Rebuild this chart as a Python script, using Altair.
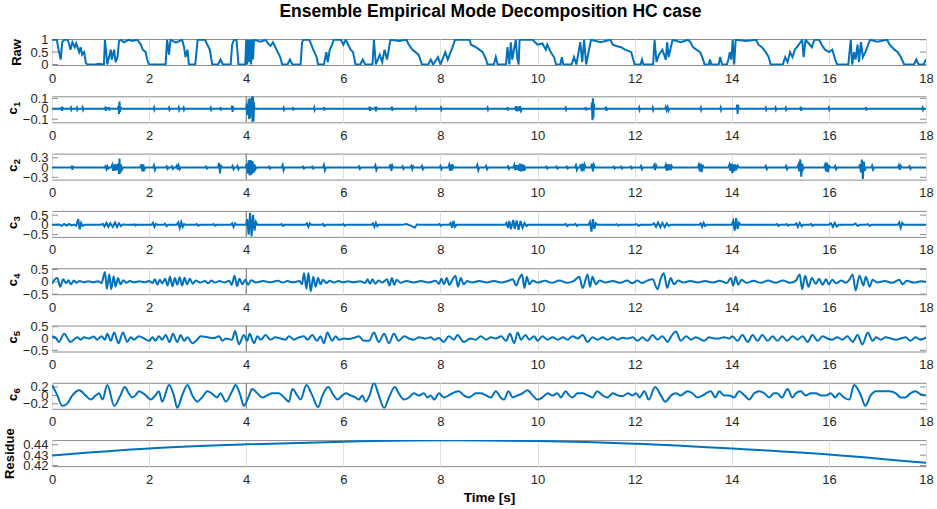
import altair as alt
import pandas as pd

TITLE = "Ensemble Empirical Mode Decomposition HC case"
time_ticks = [0, 2, 4, 6, 8, 10, 12, 14, 16, 18]

raw = [(0.0,1.0),(0.1,1.0),(0.14,0.55),(0.18,0.2),(0.21,0.9),(0.25,1.0),(0.32,1.0),(0.35,0.85),(0.38,0.6),(0.42,0.9),
(0.47,0.7),(0.5,0.85),(0.56,0.5),(0.59,0.7),(0.62,0.4),(0.66,0.5),(0.7,0.05),(0.73,0.0),(0.9,0.0),(0.95,0.03),
(1.07,0.0),(1.09,1.0),(1.14,0.0),(1.21,0.6),(1.23,0.2),(1.28,0.6),(1.31,0.1),(1.35,0.3),(1.38,0.95),(1.42,1.0),
(1.48,0.9),(1.58,1.0),(1.65,0.95),(1.76,1.0),(1.83,0.8),(1.87,0.6),(1.93,0.5),(1.96,0.2),(2.0,0.0),(2.34,0.0),
(2.37,1.0),(2.41,0.4),(2.44,1.0),(2.55,0.88),(2.68,1.0),(2.72,0.7),(2.75,0.3),(2.79,0.6),(2.82,0.0),(2.95,0.0),
(3.0,1.0),(3.15,1.0),(3.2,0.8),(3.25,0.6),(3.3,0.0),(3.42,0.0),(3.47,0.2),(3.52,0.0),(3.68,0.0),(3.71,0.8),
(3.75,1.0),(3.8,1.0),(3.84,0.0),(3.98,0.0),(4.0,1.0),(4.02,0.0),(4.04,1.0),(4.06,0.1),(4.08,1.0),(4.1,0.0),
(4.12,1.0),(4.14,0.2),(4.16,1.0),(4.3,0.92),(4.4,1.0),(4.45,0.85),(4.5,0.75),(4.55,0.9),(4.6,0.7),(4.65,0.5),
(4.7,0.3),(4.74,0.0),(4.85,0.0),(4.9,0.2),(4.95,0.0),(5.12,0.0),(5.15,0.9),(5.18,1.0),(5.3,1.0),(5.34,0.8),
(5.38,0.6),(5.45,0.3),(5.48,0.0),(5.6,0.0),(5.65,0.5),(5.68,0.1),(5.72,0.6),(5.77,0.8),(5.8,1.0),(5.95,1.0),
(6.0,0.8),(6.05,1.0),(6.1,0.8),(6.15,0.6),(6.2,0.5),(6.25,0.0),(6.35,0.0),(6.4,0.2),(6.45,0.0),(6.6,0.0),
(6.63,1.0),(6.67,0.0),(6.75,0.4),(6.8,0.1),(6.85,0.6),(6.9,0.2),(6.97,1.0),(7.15,0.95),(7.3,1.0),(7.35,0.8),
(7.42,0.6),(7.55,0.4),(7.62,0.0),(7.75,0.0),(7.8,0.2),(7.85,0.0),(7.95,0.3),(8.0,0.0),(8.1,0.5),(8.15,0.2),
(8.25,0.7),(8.3,1.0),(8.6,1.0),(8.63,0.8),(8.73,0.7),(8.8,0.6),(8.87,0.5),(8.94,0.2),(8.97,0.0),(9.1,0.0),
(9.14,0.3),(9.18,0.0),(9.35,0.0),(9.38,0.7),(9.42,0.0),(9.45,0.9),(9.48,0.2),(9.55,1.0),(9.58,0.3),(9.61,0.0),
(9.63,1.0),(9.9,1.0),(9.95,0.9),(10.0,0.8),(10.1,0.85),(10.17,0.6),(10.2,0.8),(10.27,0.5),(10.34,0.3),(10.38,0.0),
(10.47,0.0),(10.5,0.3),(10.53,0.0),(10.7,0.0),(10.75,0.3),(10.8,0.0),(10.88,0.9),(10.92,0.1),(10.96,1.0),(11.0,0.0),
(11.1,1.0),(11.3,0.9),(11.5,1.0),(11.55,0.8),(11.62,0.75),(11.72,0.7),(11.8,0.6),(11.87,0.55),(11.93,0.5),(11.97,0.2),
(12.0,0.0),(12.12,0.0),(12.15,0.2),(12.18,0.0),(12.38,0.0),(12.41,1.0),(12.45,0.1),(12.5,0.4),(12.57,0.6),(12.64,0.2),
(12.67,0.9),(12.7,0.3),(12.78,1.0),(12.95,0.9),(13.1,1.0),(13.15,0.9),(13.2,0.7),(13.27,0.6),(13.35,0.5),(13.41,0.2),
(13.44,0.0),(13.53,0.0),(13.55,0.2),(13.58,0.0),(13.73,0.0),(13.76,0.3),(13.8,0.0),(13.9,0.0),(13.93,0.2),(13.96,0.5),
(13.99,0.2),(14.02,1.0),(14.05,0.0),(14.08,1.0),(14.3,0.95),(14.5,1.0),(14.55,0.8),(14.62,0.7),(14.7,0.5),(14.76,0.3),
(14.8,0.0),(15.05,0.0),(15.1,0.3),(15.15,0.1),(15.2,0.5),(15.25,0.3),(15.3,0.6),(15.38,0.8),(15.45,1.0),(15.48,0.3),
(15.52,1.0),(15.65,0.7),(15.7,1.0),(15.8,1.0),(15.85,0.8),(15.92,0.6),(16.0,0.5),(16.07,0.6),(16.13,0.2),(16.17,0.0),
(16.4,0.0),(16.45,1.0),(16.48,0.0),(16.52,0.5),(16.55,0.2),(16.59,0.8),(16.62,0.1),(16.66,0.9),(16.7,0.3),(16.75,0.5),
(16.85,1.0),(17.0,0.92),(17.2,1.0),(17.25,0.8),(17.35,0.6),(17.42,0.5),(17.48,0.3),(17.55,0.0),(17.75,0.0),(17.8,0.2),
(17.85,0.0),(17.95,0.0),(18.0,0.2)]

c1 = [(0,0),(0.19,0),(0.2,0.02),(0.21,-0.02),(0.22,0.015),(0.23,0),(0.38,0),(0.39,0.01),(0.4,-0.01),(0.41,0),
(0.5,0),(0.51,0.01),(0.52,-0.01),(0.53,0),(0.62,0),(0.63,0.012),(0.64,-0.01),(0.65,0),
(1.09,0),(1.1,0.02),(1.11,-0.02),(1.12,0.015),(1.13,0),(1.16,0),(1.17,0.015),(1.18,-0.015),(1.19,0),
(1.36,0),(1.37,0.03),(1.38,-0.05),(1.39,0.07),(1.4,-0.03),(1.41,0.02),(1.42,0),
(2.09,0),(2.1,0.012),(2.11,-0.01),(2.12,0),(2.4,0),(2.41,0.01),(2.42,-0.01),(2.43,0),
(2.6,0),(2.61,0.012),(2.62,-0.012),(2.63,0),(2.7,0),(2.71,0.01),(2.72,-0.01),(2.73,0),
(3.26,0),(3.27,0.01),(3.28,-0.01),(3.29,0),(3.46,0),(3.47,0.015),(3.48,-0.015),(3.49,0),
(3.7,0),(3.71,0.03),(3.72,-0.03),(3.73,0.02),(3.74,0),
(4.0,0),(4.01,0.05),(4.02,-0.06),(4.03,0.04),(4.04,0),(4.05,0.09),(4.06,-0.1),(4.07,0.1),(4.08,-0.09),(4.09,0.05),
(4.1,-0.03),(4.12,0.12),(4.13,-0.13),(4.14,0.12),(4.15,-0.12),(4.16,0.06),(4.17,0),
(4.76,0),(4.77,0.01),(4.78,-0.01),(4.79,0),(4.95,0),(4.96,0.015),(4.97,-0.015),(4.98,0),
(5.39,0),(5.4,0.012),(5.41,-0.012),(5.42,0),(5.59,0),(5.6,0.015),(5.61,-0.015),(5.62,0),
(6.53,0),(6.54,0.02),(6.55,-0.02),(6.56,0.015),(6.57,0),(6.65,0),(6.66,0.02),(6.67,-0.025),(6.68,0.02),(6.69,0),
(6.99,0),(7.0,0.02),(7.01,-0.02),(7.02,0),(7.48,0),(7.49,0.01),(7.5,-0.01),(7.51,0),
(8.0,0),(8.01,0.01),(8.02,-0.01),(8.03,0),(8.96,0),(8.97,0.01),(8.98,-0.01),(8.99,0),
(9.37,0),(9.38,0.015),(9.39,-0.015),(9.4,0),(9.54,0),(9.55,0.025),(9.56,-0.02),(9.57,0.02),(9.58,-0.025),(9.6,0.02),
(9.62,-0.02),(9.64,0.025),(9.66,-0.02),(9.68,0),(10.57,0),(10.58,0.01),(10.59,-0.01),(10.6,0),
(10.98,0),(10.99,0.015),(11.0,-0.015),(11.01,0),(11.11,0),(11.12,0.06),(11.13,-0.11),(11.14,0.1),(11.15,-0.09),
(11.16,0.05),(11.17,0),(11.4,0),(11.41,0.02),(11.42,-0.02),(11.43,0),(12.08,0),(12.09,0.012),(12.1,-0.012),(12.11,0),
(12.36,0),(12.37,0.012),(12.38,-0.012),(12.39,0),(12.63,0),(12.64,0.015),(12.66,-0.015),(12.68,0.015),(12.7,-0.015),(12.71,0),
(13.35,0),(13.36,0.012),(13.37,-0.012),(13.38,0),(13.76,0),(13.77,0.012),(13.78,-0.012),(13.79,0),
(14.1,0),(14.11,0.04),(14.12,-0.05),(14.13,0.04),(14.14,0),(14.69,0),(14.7,0.01),(14.71,-0.01),(14.72,0),
(14.89,0),(14.9,0.01),(14.91,-0.01),(14.92,0),(15.1,0),(15.11,0.01),(15.12,-0.01),(15.13,0),
(15.41,0),(15.42,0.02),(15.43,-0.02),(15.44,0),(15.99,0),(16.0,0.01),(16.01,-0.01),(16.02,0),
(16.75,0),(16.76,0.015),(16.77,-0.015),(16.78,0),(17.92,0),(17.93,0.01),(17.94,-0.01),(17.95,0),(18.0,0)]

c2 = [(0,0),(0.4,0),(0.41,0.06),(0.42,-0.07),(0.43,0.05),(0.44,0),
(1.08,0),(1.1,0.04),(1.12,-0.05),(1.14,0.04),(1.16,-0.03),(1.18,0),
(1.22,0),(1.24,0.08),(1.26,-0.1),(1.28,0.1),(1.3,-0.09),(1.32,0.1),(1.34,-0.08),(1.36,0.12),(1.38,-0.2),(1.39,0.28),
(1.4,-0.18),(1.42,0.1),(1.44,-0.06),(1.46,0),
(1.82,0),(1.84,0.1),(1.86,-0.12),(1.88,0.1),(1.9,-0.06),(1.92,0),
(2.08,0),(2.1,0.07),(2.12,-0.07),(2.14,0),(2.34,0),(2.36,0.04),(2.38,-0.04),(2.4,0),
(2.45,0),(2.47,0.04),(2.49,-0.04),(2.51,0),(2.55,0),(2.57,0.06),(2.59,-0.06),(2.61,0.06),(2.63,-0.05),(2.65,0),
(3.15,0),(3.17,0.03),(3.19,-0.03),(3.21,0),(3.42,0),(3.44,0.14),(3.46,-0.18),(3.48,0.08),(3.5,0),
(3.7,0),(3.72,0.05),(3.74,-0.05),(3.76,0),(3.8,0),(3.82,0.05),(3.84,-0.05),(3.86,0),
(3.99,0),(4.01,0.12),(4.03,-0.18),(4.05,0.22),(4.07,-0.24),(4.09,0.23),(4.11,-0.22),(4.13,0.2),(4.15,-0.16),
(4.17,0.1),(4.19,-0.05),(4.21,0),
(4.45,0),(4.47,0.03),(4.49,-0.03),(4.51,0),(4.73,0),(4.75,0.08),(4.77,-0.08),(4.79,0),
(5.15,0),(5.17,0.03),(5.19,-0.03),(5.21,0),(5.34,0),(5.36,0.03),(5.38,-0.03),(5.4,0),
(5.58,0),(5.6,0.08),(5.62,-0.08),(5.64,0),(6.3,0),(6.32,0.04),(6.34,-0.04),(6.36,0),
(6.64,0),(6.66,0.07),(6.68,-0.07),(6.7,0),(6.95,0),(6.97,0.1),(6.99,-0.1),(7.01,0.06),(7.03,0),
(7.2,0),(7.22,0.04),(7.24,-0.04),(7.26,0),(7.38,0),(7.4,0.05),(7.42,-0.05),(7.44,0.04),(7.46,0),
(7.6,0),(7.62,0.05),(7.64,-0.05),(7.66,0),(7.98,0),(8.0,0.05),(8.02,-0.05),(8.04,0),
(8.16,0),(8.18,0.08),(8.2,-0.1),(8.22,0.1),(8.24,-0.08),(8.26,0.05),(8.28,0),
(8.74,0),(8.76,0.08),(8.78,-0.08),(8.8,0),(8.92,0),(8.94,0.05),(8.96,-0.05),(8.98,0),
(9.37,0),(9.39,0.04),(9.41,-0.04),(9.43,0),
(9.5,0),(9.52,0.08),(9.54,-0.08),(9.56,0.07),(9.58,-0.06),(9.6,0.08),(9.62,-0.1),(9.64,0.12),(9.66,-0.12),
(9.68,0.1),(9.7,-0.1),(9.72,0.08),(9.74,-0.05),(9.76,0),
(10.16,0),(10.18,0.03),(10.2,-0.03),(10.22,0),(10.37,0),(10.39,0.03),(10.41,-0.03),(10.43,0),
(10.58,0),(10.6,0.03),(10.62,-0.03),(10.64,0),(10.77,0),(10.79,0.07),(10.81,-0.07),(10.83,0),
(10.87,0),(10.89,0.1),(10.91,-0.12),(10.93,0.12),(10.95,-0.1),(10.97,0.08),(10.99,0),
(11.1,0),(11.12,0.12),(11.14,-0.12),(11.16,0.08),(11.18,0),
(11.55,0),(11.57,0.03),(11.59,-0.03),(11.61,0),(11.7,0),(11.72,0.03),(11.74,-0.03),(11.76,0),
(11.9,0),(11.92,0.03),(11.94,-0.03),(11.96,0),(12.11,0),(12.13,0.05),(12.15,-0.05),(12.17,0),
(12.38,0),(12.4,0.07),(12.42,-0.08),(12.44,0.07),(12.46,0),
(12.62,0),(12.64,0.08),(12.66,-0.1),(12.68,0.1),(12.7,-0.08),(12.72,0.1),(12.74,-0.08),(12.76,0.05),(12.78,0),
(13.3,0),(13.32,0.08),(13.34,-0.12),(13.36,0.12),(13.38,-0.14),(13.4,0.08),(13.42,0),
(13.93,0),(13.95,0.08),(13.97,-0.1),(13.99,0.12),(14.01,-0.17),(14.03,0.1),(14.05,-0.12),(14.07,0.1),
(14.09,-0.08),(14.12,0.06),(14.15,0),
(14.68,0),(14.7,0.05),(14.72,-0.05),(14.74,0),(15.1,0),(15.12,0.05),(15.14,-0.05),(15.16,0),
(15.35,0),(15.37,0.08),(15.39,-0.12),(15.41,0.25),(15.43,-0.28),(15.45,0.12),(15.47,-0.05),(15.49,0),
(15.9,0),(15.92,0.08),(15.94,-0.12),(15.96,0.15),(15.98,-0.14),(16.0,0.08),(16.02,0),
(16.11,0),(16.13,0.05),(16.15,-0.05),(16.17,0),
(16.62,0),(16.64,0.1),(16.66,-0.15),(16.68,0.25),(16.7,-0.35),(16.72,0.18),(16.74,-0.1),(16.76,0),
(16.87,0),(16.89,0.06),(16.91,-0.06),(16.93,0),(17.42,0),(17.44,0.07),(17.46,-0.07),(17.48,0.05),(17.5,0),
(17.64,0),(17.66,0.04),(17.68,-0.04),(17.7,0),(18.0,0)]

c3 = [(0,0),(0.15,0.02),(0.2,-0.05),(0.25,0.05),(0.3,-0.04),(0.35,0.05),(0.4,-0.03),(0.45,0.02),(0.5,-0.05),
(0.54,0.3),(0.57,-0.23),(0.6,0.1),(0.63,-0.05),(0.68,0),
(1.0,0),(1.05,0.05),(1.08,-0.08),(1.12,0.1),(1.16,-0.1),(1.2,0.08),(1.25,-0.1),(1.3,0.12),(1.34,-0.1),(1.38,0.08),
(1.42,-0.06),(1.47,0.03),(1.52,0),(1.68,0),(1.7,0.03),(1.72,-0.03),(1.74,0),
(2.05,0),(2.08,0.1),(2.11,-0.1),(2.14,0.05),(2.17,0),(2.3,0),(2.33,0.06),(2.36,-0.07),(2.39,0),
(2.57,0),(2.6,0.12),(2.63,-0.15),(2.66,0.14),(2.69,-0.1),(2.72,0.04),(2.75,0),
(2.95,0),(2.98,0.04),(3.01,-0.04),(3.04,0),(3.3,0),(3.33,0.04),(3.36,-0.04),(3.39,0),
(3.68,0),(3.71,0.08),(3.74,-0.1),(3.77,0.08),(3.8,0),
(4.0,0),(4.02,0.3),(4.05,-0.5),(4.08,0.62),(4.11,-0.6),(4.14,0.5),(4.17,-0.3),(4.2,0.15),(4.23,0),
(4.7,0),(4.73,0.04),(4.76,-0.05),(4.79,0),(5.22,0),(5.25,0.08),(5.28,-0.1),(5.31,0.08),(5.34,0),
(5.55,0),(5.58,0.05),(5.61,-0.06),(5.64,0),(5.98,0),(6.0,0.04),(6.03,-0.04),(6.06,0),
(6.58,0),(6.61,0.08),(6.64,-0.1),(6.67,0.1),(6.7,-0.07),(6.73,0),
(7.2,0),(7.3,0.04),(7.4,-0.05),(7.47,-0.15),(7.52,0.03),(7.57,0),
(7.95,0),(7.98,0.04),(8.01,-0.04),(8.04,0),(8.18,0),(8.21,0.1),(8.24,-0.15),(8.27,0.2),(8.3,-0.1),(8.33,0),
(9.33,0),(9.36,0.1),(9.39,-0.15),(9.42,0.2),(9.45,-0.22),(9.5,0.25),(9.53,-0.2),(9.57,0.22),(9.61,-0.25),
(9.65,0.2),(9.69,-0.15),(9.73,0.1),(9.77,-0.06),(9.8,0),
(10.55,0),(10.58,0.05),(10.61,-0.06),(10.64,0),(10.75,0),(10.78,0.05),(10.81,-0.05),(10.84,0),
(11.05,0),(11.08,0.15),(11.11,-0.35),(11.14,0.3),(11.17,-0.2),(11.2,0.08),(11.23,0),
(11.6,0),(11.63,0.03),(11.66,-0.04),(11.69,0),(12.0,0),(12.04,0.04),(12.08,-0.05),(12.12,0),
(12.35,0),(12.4,0.08),(12.44,-0.1),(12.48,0.12),(12.53,-0.12),(12.57,0.1),(12.62,-0.12),(12.66,0.08),(12.7,-0.05),(12.74,0),
(13.33,0),(13.36,0.08),(13.39,-0.1),(13.42,0.1),(13.45,-0.06),(13.48,0),
(14.0,0),(14.03,0.2),(14.06,-0.3),(14.09,0.35),(14.12,-0.22),(14.15,0.1),(14.18,0),
(14.9,0),(14.93,0.04),(14.96,-0.05),(14.99,0),(15.1,0),(15.13,0.04),(15.16,-0.04),(15.19,0),
(15.3,0),(15.33,0.08),(15.36,-0.1),(15.4,0.1),(15.44,-0.08),(15.47,0),(15.6,0),(15.63,0.05),(15.66,-0.05),(15.69,0),
(16.0,0),(16.04,0.08),(16.08,-0.1),(16.12,0.1),(16.16,-0.08),(16.2,0),(16.5,0),(16.55,0.07),(16.59,-0.06),(16.63,0),
(16.75,0),(16.8,0.04),(16.84,-0.05),(16.88,0),(17.42,0),(17.45,0.12),(17.48,-0.15),(17.51,0.1),(17.54,0),(18.0,0)]

c4 = [(0,-0.08),(0.05,0.08),(0.11,0.15),(0.17,-0.2),(0.23,0.1),(0.29,-0.05),(0.34,0.06),(0.39,-0.1),(0.45,0.05),
(0.5,-0.04),(0.57,0.03),(0.65,-0.02),(0.75,0.02),(0.85,-0.02),(0.95,0.02),(1.02,-0.05),(1.09,0.4),(1.13,-0.28),
(1.18,0.3),(1.22,-0.3),(1.27,0.22),(1.31,-0.2),(1.36,0.15),(1.41,-0.1),(1.47,0.06),(1.53,-0.04),(1.6,0.03),
(1.7,-0.02),(1.8,0.02),(1.9,-0.02),(2.0,0.03),(2.07,-0.05),(2.12,0.1),(2.17,-0.12),(2.22,0.08),(2.27,-0.06),
(2.33,0.12),(2.38,-0.15),(2.43,0.2),(2.48,-0.18),(2.53,0.15),(2.58,-0.12),(2.63,0.18),(2.68,-0.15),(2.73,0.16),
(2.78,-0.1),(2.84,0.12),(2.9,-0.08),(2.96,0.05),(3.05,-0.03),(3.15,0.03),(3.22,-0.06),(3.28,0.05),(3.35,-0.03),
(3.45,0.03),(3.55,-0.03),(3.65,0.04),(3.7,-0.12),(3.76,0.25),(3.81,-0.18),(3.86,0.12),(3.92,-0.1),(3.98,0.08),
(4.04,-0.12),(4.1,0.06),(4.2,-0.03),(4.35,0.03),(4.5,-0.02),(4.65,0.04),(4.75,-0.03),(4.85,0.03),(4.95,-0.02),
(5.1,0.03),(5.15,-0.1),(5.19,0.35),(5.24,-0.28),(5.28,0.36),(5.33,-0.38),(5.38,0.2),(5.43,-0.2),(5.48,0.15),
(5.53,-0.1),(5.58,0.08),(5.65,-0.05),(5.72,0.04),(5.8,-0.03),(5.9,0.03),(6.0,-0.02),(6.1,0.02),(6.2,-0.02),
(6.35,0.02),(6.45,-0.05),(6.5,0.1),(6.55,-0.08),(6.6,0.1),(6.66,-0.08),(6.72,0.05),(6.8,-0.03),(6.9,0.1),
(6.95,-0.15),(7.0,0.15),(7.05,-0.12),(7.1,0.08),(7.18,-0.04),(7.3,0.03),(7.45,-0.03),(7.6,0.03),(7.75,-0.03),
(7.9,0.04),(7.97,-0.08),(8.02,0.12),(8.07,-0.1),(8.13,0.15),(8.18,-0.12),(8.25,0.1),(8.31,0.25),(8.36,-0.2),
(8.42,0.15),(8.48,-0.1),(8.55,0.03),(8.65,-0.03),(8.8,0.03),(8.95,-0.03),(9.1,0.03),(9.25,-0.03),(9.4,0.04),
(9.49,0.1),(9.56,-0.15),(9.62,0.12),(9.68,0.3),(9.73,-0.25),(9.78,0.2),(9.83,-0.1),(9.9,0.05),(10.0,-0.03),
(10.15,0.04),(10.3,-0.04),(10.45,0.05),(10.6,-0.04),(10.75,0.04),(10.86,0.2),(10.93,-0.25),(11.03,0.3),
(11.08,-0.2),(11.13,0.2),(11.2,-0.1),(11.28,0.05),(11.4,-0.03),(11.55,0.03),(11.7,-0.04),(11.85,0.05),
(11.95,-0.06),(12.05,0.05),(12.15,-0.05),(12.25,0.04),(12.37,0.1),(12.47,-0.3),(12.54,0.15),(12.6,0.35),
(12.67,-0.25),(12.74,0.15),(12.81,-0.1),(12.9,0.05),(13.0,-0.03),(13.15,0.03),(13.3,-0.03),(13.45,0.03),
(13.6,-0.03),(13.75,0.04),(13.9,-0.05),(13.98,0.15),(14.03,-0.15),(14.08,0.2),(14.13,-0.12),(14.2,0.08),
(14.3,-0.04),(14.45,0.04),(14.6,-0.04),(14.75,0.05),(14.9,-0.04),(15.05,0.05),(15.2,-0.04),(15.32,0.05),
(15.4,0.3),(15.45,-0.3),(15.51,0.25),(15.58,-0.2),(15.65,0.15),(15.73,-0.08),(15.8,0.12),(15.87,-0.12),
(15.94,0.1),(16.0,-0.1),(16.07,0.08),(16.15,-0.06),(16.25,0.05),(16.35,-0.04),(16.42,0.08),(16.49,0.3),
(16.55,-0.35),(16.63,0.25),(16.71,-0.15),(16.76,0.2),(16.84,-0.2),(16.9,0.08),(17.0,-0.03),(17.15,0.03),
(17.3,-0.04),(17.45,0.08),(17.52,-0.1),(17.6,0.04),(17.75,-0.03),(17.9,0.02),(18.0,0.0)]

c5 = [(0,0.08),(0.07,0.05),(0.14,-0.15),(0.25,0.2),(0.38,-0.15),(0.52,0.05),(0.59,-0.05),(0.66,0.05),(0.76,0.0),
(0.86,0.08),(0.93,-0.05),(1.02,0.1),(1.09,-0.05),(1.14,0.2),(1.21,-0.1),(1.28,0.25),(1.37,-0.2),(1.46,0.25),
(1.55,-0.15),(1.62,0.05),(1.69,-0.05),(1.79,0.1),(1.9,0.0),(2.0,-0.1),(2.07,0.05),(2.13,-0.1),(2.2,0.1),
(2.27,-0.05),(2.34,0.15),(2.42,-0.15),(2.49,0.2),(2.58,-0.15),(2.65,0.15),(2.72,-0.1),(2.79,0.05),(2.89,-0.2),
(2.99,-0.05),(3.06,0.1),(3.2,0.05),(3.34,0.02),(3.44,0.1),(3.51,-0.1),(3.58,0.0),(3.71,-0.05),(3.77,0.32),
(3.85,-0.25),(3.95,0.15),(4.02,-0.1),(4.07,0.2),(4.16,-0.2),(4.23,0.1),(4.3,-0.05),(4.4,0.15),(4.5,-0.05),
(4.6,0.05),(4.71,0.0),(4.81,-0.05),(4.88,0.1),(4.98,-0.05),(5.09,0.05),(5.19,0.1),(5.26,-0.05),(5.36,0.15),
(5.46,-0.1),(5.53,0.1),(5.6,-0.2),(5.67,0.25),(5.77,-0.1),(5.84,0.1),(5.91,-0.05),(6.01,0.0),(6.11,-0.02),
(6.22,0.03),(6.32,0.1),(6.42,-0.1),(6.53,-0.1),(6.63,0.25),(6.73,-0.15),(6.84,0.2),(6.94,-0.2),(7.04,0.2),
(7.14,-0.1),(7.25,0.1),(7.35,0.0),(7.45,-0.05),(7.56,0.05),(7.7,0.0),(7.8,0.05),(7.87,-0.05),(7.97,0.02),
(8.07,-0.15),(8.17,0.1),(8.28,-0.05),(8.35,0.15),(8.48,-0.15),(8.62,0.0),(8.73,-0.05),(8.83,0.1),(8.94,-0.05),
(9.04,0.05),(9.14,0.0),(9.25,0.1),(9.35,-0.1),(9.43,0.2),(9.52,-0.2),(9.59,0.25),(9.66,-0.05),(9.75,0.15),
(9.83,-0.05),(9.93,0.1),(10.0,-0.1),(10.1,0.1),(10.2,-0.05),(10.31,0.05),(10.42,-0.05),(10.52,0.05),
(10.62,-0.05),(10.72,0.1),(10.83,0.0),(10.93,0.15),(11.03,-0.15),(11.13,0.05),(11.24,-0.05),(11.34,0.05),
(11.44,-0.05),(11.55,0.05),(11.65,-0.05),(11.75,0.03),(11.86,0.0),(11.96,0.05),(12.06,-0.1),(12.16,0.05),
(12.26,-0.1),(12.37,0.15),(12.47,-0.05),(12.57,0.1),(12.68,-0.15),(12.74,0.05),(12.85,0.3),(12.95,-0.1),
(13.06,0.1),(13.16,-0.05),(13.26,0.05),(13.33,0.0),(13.43,-0.1),(13.53,0.05),(13.64,0.0),(13.74,0.0),
(13.84,0.05),(13.95,0.0),(14.01,0.1),(14.12,-0.1),(14.22,0.15),(14.33,-0.15),(14.43,0.15),(14.53,-0.1),
(14.63,0.15),(14.74,-0.1),(14.84,0.1),(14.94,-0.1),(15.04,0.1),(15.14,-0.1),(15.25,0.1),(15.35,-0.05),
(15.46,0.1),(15.56,-0.15),(15.66,0.15),(15.77,-0.1),(15.87,0.1),(15.97,0.0),(16.07,-0.05),(16.17,0.05),
(16.28,-0.05),(16.38,0.1),(16.49,-0.15),(16.59,0.15),(16.69,-0.25),(16.8,0.25),(16.9,-0.1),(16.97,0.05),
(17.07,-0.05),(17.17,0.05),(17.28,0.0),(17.38,-0.05),(17.48,0.0),(17.58,0.05),(17.68,-0.1),(17.78,0.05),
(17.89,-0.05),(18.0,0.05)]

c6 = [(0,0.25),(0.11,0.0),(0.21,-0.25),(0.31,-0.2),(0.42,0.0),(0.56,0.12),(0.69,0.0),(0.8,-0.1),(0.9,0.0),
(0.97,0.05),(1.04,-0.1),(1.14,0.25),(1.28,-0.25),(1.41,0.0),(1.5,0.2),(1.58,0.05),(1.65,-0.05),(1.72,0.0),
(1.79,0.1),(1.93,0.0),(2.03,-0.1),(2.13,0.0),(2.2,0.1),(2.27,-0.15),(2.41,0.25),(2.51,0.0),(2.58,-0.3),
(2.68,0.0),(2.79,0.25),(2.89,0.0),(2.99,-0.15),(3.09,-0.05),(3.2,0.1),(3.34,0.0),(3.4,-0.05),(3.47,0.05),
(3.58,-0.15),(3.71,0.1),(3.78,0.25),(3.88,0.0),(3.95,-0.25),(4.06,0.0),(4.12,0.15),(4.23,0.05),(4.33,-0.05),
(4.43,0.0),(4.54,0.05),(4.67,0.05),(4.78,-0.05),(4.88,-0.15),(4.95,0.15),(5.05,0.0),(5.12,-0.1),(5.24,0.25),
(5.36,0.0),(5.48,-0.28),(5.57,0.0),(5.69,0.2),(5.8,0.0),(5.88,-0.1),(5.98,0.0),(6.05,0.05),(6.15,0.0),
(6.25,-0.05),(6.32,-0.1),(6.39,0.0),(6.46,-0.15),(6.54,0.0),(6.63,0.3),(6.73,0.0),(6.84,-0.3),(6.94,-0.05),
(7.06,0.2),(7.14,0.05),(7.25,-0.1),(7.35,-0.05),(7.45,0.05),(7.56,0.0),(7.66,0.05),(7.73,-0.05),(7.8,0.0),
(7.87,-0.1),(7.97,0.05),(8.07,-0.05),(8.17,0.0),(8.24,0.05),(8.38,0.1),(8.48,0.0),(8.59,-0.05),(8.73,0.05),
(8.83,0.05),(8.94,0.0),(9.04,-0.05),(9.14,0.1),(9.24,-0.05),(9.31,-0.1),(9.4,0.1),(9.49,-0.05),(9.59,0.0),
(9.69,0.05),(9.79,0.12),(9.9,0.0),(10.0,-0.1),(10.1,-0.05),(10.21,0.05),(10.31,0.0),(10.41,0.05),(10.48,-0.05),
(10.58,0.1),(10.65,0.0),(10.72,-0.05),(10.82,0.05),(10.93,0.05),(11.03,0.0),(11.13,-0.05),(11.23,0.1),
(11.34,0.0),(11.44,-0.05),(11.55,0.05),(11.65,0.0),(11.75,-0.02),(11.86,0.05),(11.96,0.0),(12.03,0.05),
(12.1,-0.05),(12.2,0.1),(12.29,-0.1),(12.42,0.2),(12.54,0.0),(12.63,-0.15),(12.75,0.0),(12.85,0.05),
(12.95,0.0),(13.09,0.1),(13.19,0.05),(13.29,-0.05),(13.4,0.0),(13.47,0.05),(13.57,0.1),(13.66,-0.05),
(13.74,0.1),(13.84,0.0),(13.95,0.0),(14.05,-0.05),(14.15,0.1),(14.26,0.0),(14.36,-0.1),(14.46,0.05),
(14.57,0.1),(14.67,0.05),(14.77,-0.05),(14.87,0.05),(14.94,0.05),(15.03,-0.05),(15.15,0.15),(15.25,-0.05),
(15.32,0.05),(15.42,0.1),(15.52,0.0),(15.63,0.05),(15.73,0.05),(15.84,0.0),(15.94,0.0),(16.04,0.05),
(16.13,-0.05),(16.21,0.05),(16.31,-0.05),(16.42,-0.1),(16.52,0.25),(16.66,0.0),(16.75,-0.25),(16.86,0.0),
(16.97,0.1),(17.1,0.1),(17.24,0.1),(17.38,0.05),(17.48,-0.05),(17.57,-0.05),(17.68,0.05),(17.78,0.1),
(17.9,0.02),(18.0,0.0)]

residue = [(0,0.4298),(2,0.4365),(4,0.4404),(6,0.443),(8,0.4443),(10,0.4436),(12,0.4411),(14,0.4365),
(16,0.4307),(18,0.4226)]

# name, subscript, data, y-domain, y-ticks, interpolation
panels_spec = [
    ("Raw", "", raw, [-0.02, 1.03], [0, 0.5, 1], "linear"),
    ("c", "1", c1, [-0.13, 0.12], [-0.1, 0, 0.1], "linear"),
    ("c", "2", c2, [-0.37, 0.43], [-0.3, 0, 0.3], "linear"),
    ("c", "3", c3, [-0.62, 0.72], [-0.5, 0, 0.5], "linear"),
    ("c", "4", c4, [-0.5, 0.55], [-0.5, 0, 0.5], "monotone"),
    ("c", "5", c5, [-0.55, 0.55], [-0.5, 0, 0.5], "monotone"),
    ("c", "6", c6, [-0.32, 0.3], [-0.2, 0, 0.2], "monotone"),
    ("Residue", "", residue, [0.4195, 0.4445], [0.42, 0.43, 0.44], "monotone"),
]

W, H = 874, 26
BLUE = "#0072BD"
FRAME = "#8c8c8c"
FONT = "Liberation Sans"


def make_panel(name, sub, pts, domain, yticks, interp, last):
    df = pd.DataFrame(pts, columns=["t", "v"])
    xs = alt.Scale(domain=[0, 18], nice=False, zero=False)
    ys = alt.Scale(domain=domain, nice=False, zero=False)
    xaxis = alt.Axis(values=time_ticks, title="Time [s]" if last else None, grid=True,
                     gridColor="#dedede", gridWidth=1, ticks=False, domain=False,
                     labelPadding=7, labelFlush=False, labelOverlap=False,
                     titleFontWeight="bold", titleFontSize=13.5, titlePadding=4)
    yaxis = alt.Axis(values=yticks, title=None if sub else name, format="~g",
                     grid=False, ticks=False, domain=False,
                     labelPadding=4, labelOverlap=False, labelFlush=False,
                     titleFontWeight="bold", titleFontSize=13, titlePadding=6)
    x = alt.X("t:Q", scale=xs, axis=xaxis)
    y = alt.Y("v:Q", scale=ys, axis=yaxis)
    layers = []
    if not last:
        layers.append(alt.Chart(pd.DataFrame({"t": [4]})).mark_rule(
            color="#6e6e6e", strokeWidth=1).encode(x=x))
    tdf = pd.DataFrame({"v": yticks})
    layers.append(alt.Chart(tdf).mark_rule(color=FRAME, strokeWidth=1).encode(
        x=alt.value(0), x2=alt.value(6), y=y))
    layers.append(alt.Chart(tdf).mark_rule(color=FRAME, strokeWidth=1).encode(
        x=alt.value(W - 6), x2=alt.value(W), y=y))
    layers.append(alt.Chart(df).mark_line(color=BLUE, strokeWidth=2, clip=True,
                                          interpolate=interp).encode(x=x, y=y))
    if sub:
        lab = pd.DataFrame({"s": [name], "d": [sub]})
        layers.append(alt.Chart(lab).mark_text(
            angle=270, fontSize=13, fontWeight="bold", align="center", baseline="alphabetic",
            color="#000000", font=FONT).encode(
            x=alt.value(-35.5), y=alt.value(H / 2 + 1.5), text="s:N"))
        layers.append(alt.Chart(lab).mark_text(
            angle=270, fontSize=9.5, fontWeight="bold", align="center", baseline="alphabetic",
            color="#000000", font=FONT).encode(
            x=alt.value(-32.5), y=alt.value(H / 2 - 5), text="d:N"))
    return alt.layer(*layers).properties(width=W, height=H)


charts = [make_panel(n, s, p, d, t, i, k == len(panels_spec) - 1)
          for k, (n, s, p, d, t, i) in enumerate(panels_spec)]

chart = alt.vconcat(*charts, spacing=31.3, bounds="flush").properties(
    title=alt.TitleParams(TITLE, fontSize=17.5, fontWeight="bold", anchor="middle",
                          color="#000000", offset=13, dx=22),
    padding={"left": 3, "top": 2, "right": 1, "bottom": 2},
).configure(font=FONT).configure_view(
    stroke=FRAME, strokeWidth=1
).configure_axis(
    labelFontSize=13, labelColor="#262626", titleColor="#000000", labelFont=FONT,
    titleFont=FONT
).configure_title(font=FONT)

chart.save("out.html", embed_options={"renderer": "svg", "actions": False})
